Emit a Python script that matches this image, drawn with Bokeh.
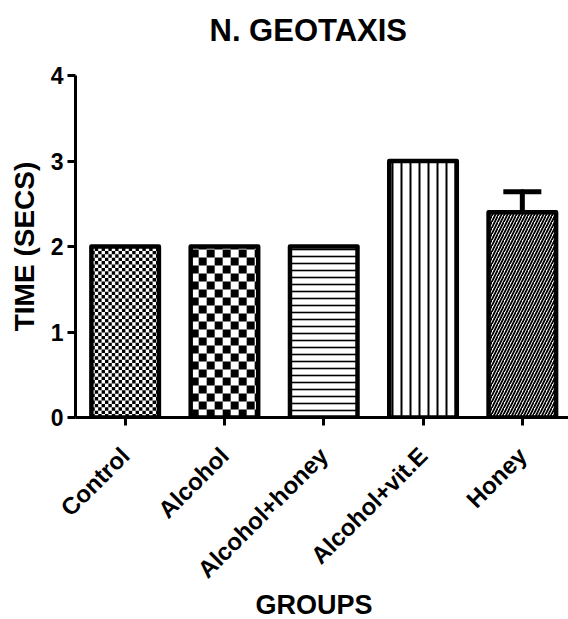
import math
import numpy as np
from bokeh.plotting import figure
from bokeh.models import (Range1d, FixedTicker, ColumnDataSource, Whisker,
                          TeeHead, Title)
from bokeh.embed import file_html
from bokeh.resources import INLINE

# Negative geotaxis climbing time per treatment group
groups = ["Control", "Alcohol", "Alcohol+honey", "Alcohol+vit.E", "Honey"]
times = [2.0, 2.0, 2.0, 3.0, 2.4]
sems = [0.0, 0.0, 0.0, 0.0, 0.24]
y_ticks = [0, 1, 2, 3, 4]

FONT = "Liberation Sans"

# fill per bar: (kind, size in px, line weight)
styles = [
    ("checker", 3.4, 0),
    ("checker", 8.0, 0),
    ("horizontal_line", 7, 1.6),
    ("vertical_line", 9, 2),
    ("right_diagonal_line", 6, 1.8),
]

W, H = 568, 619
LEFT, TOP, BOTTOM = 75, 75, 202
X_END, Y_END = 4.965, 4.0
BAR_W = 0.68

xs = [i + 0.5 for i in range(len(groups))]

p = figure(width=W, height=H, output_backend="svg", toolbar_location=None,
           x_range=Range1d(0, X_END), y_range=Range1d(0, Y_END),
           min_border_left=LEFT, min_border_right=0, min_border_top=TOP,
           min_border_bottom=BOTTOM, background_fill_color="white",
           border_fill_color="white", outline_line_color=None,
           title_location=None)

# pixels per data unit, used to size the checkerboard cells
px_x = (W - LEFT) / X_END
px_y = (H - TOP - BOTTOM) / Y_END


def checker_quads(xc, top, cell):
    dx, dy = cell / px_x, cell / px_y
    x0, x1 = xc - BAR_W / 2, xc + BAR_W / 2
    ncol = int(math.ceil(BAR_W / dx))
    nrow = int(math.ceil(top / dy))
    c, r = np.meshgrid(np.arange(ncol), np.arange(nrow))
    keep = (c + r) % 2 == 0
    c, r = c[keep], r[keep]
    left = x0 + c * dx
    bottom = r * dy
    return dict(left=left, right=np.minimum(left + dx, x1),
                bottom=bottom, top=np.minimum(bottom + dy, top))


for i, (x, t) in enumerate(zip(xs, times)):
    kind, size, weight = styles[i]
    if kind == "checker":
        p.vbar(x=[x], top=[t], bottom=0, width=BAR_W, fill_color="white",
               line_color=None)
        p.quad(source=ColumnDataSource(checker_quads(x, t, size)),
               left="left", right="right", bottom="bottom", top="top",
               fill_color="black", line_color=None)
        p.vbar(x=[x], top=[t], bottom=0, width=BAR_W, fill_color=None,
               line_color="black", line_width=4.5, line_join="round")
    else:
        p.vbar(x=[x], top=[t], bottom=0, width=BAR_W, fill_color="white",
               line_color="black", line_width=4.5, line_join="round",
               hatch_pattern=kind, hatch_scale=size, hatch_weight=weight,
               hatch_color="black")

err = ColumnDataSource(data=dict(
    x=[x for x, s in zip(xs, sems) if s > 0],
    lower=[t for t, s in zip(times, sems) if s > 0],
    upper=[t + s for t, s in zip(times, sems) if s > 0],
))
p.add_layout(Whisker(source=err, base="x", lower="lower", upper="upper",
                     line_width=5, line_color="black", line_cap="round",
                     upper_head=TeeHead(size=38, line_width=5, line_color="black"),
                     lower_head=None))

p.xgrid.visible = False
p.ygrid.visible = False

for ax in (p.xaxis[0], p.yaxis[0]):
    ax.axis_line_width = 3
    ax.axis_line_color = "black"
    ax.major_tick_line_width = 3
    ax.major_tick_line_color = "black"
    ax.major_tick_out = 8
    ax.major_tick_in = 0
    ax.minor_tick_line_color = None
    ax.axis_label_text_font = FONT
    ax.axis_label_text_font_style = "bold"
    ax.axis_label_text_color = "black"
    ax.major_label_text_font = FONT
    ax.major_label_text_font_style = "bold"
    ax.major_label_text_color = "black"

p.yaxis.ticker = FixedTicker(ticks=y_ticks)
p.yaxis.major_label_text_font_size = "23px"
p.yaxis.major_label_standoff = 4
p.yaxis.axis_label = "TIME (SECS)"
p.yaxis.axis_label_text_font_size = "28px"
p.yaxis.axis_label_standoff = 8

p.xaxis.ticker = FixedTicker(ticks=xs)
p.xaxis.major_label_overrides = {x: g for x, g in zip(xs, groups)}
p.xaxis.major_label_orientation = math.pi / 4
p.xaxis.major_label_text_font_size = "24px"
p.xaxis.major_label_standoff = 26

# empty spacer row between the frame and the chart title
p.add_layout(Title(text=" ", text_font_size="10px", standoff=15), "above")
# chart title, a little left of the frame centre
p.add_layout(Title(text="N. GEOTAXIS", align="left", offset=134,
                   vertical_align="bottom", standoff=0,
                   text_font=FONT, text_font_style="bold",
                   text_font_size="31px", text_color="black"), "above")

# x-axis title below the rotated group names
p.add_layout(Title(text="GROUPS", align="left", offset=180,
                   vertical_align="top", standoff=-12,
                   text_font=FONT, text_font_style="bold",
                   text_font_size="27px", text_color="black"), "below")

open("out.html", "w").write(file_html(p, INLINE))
